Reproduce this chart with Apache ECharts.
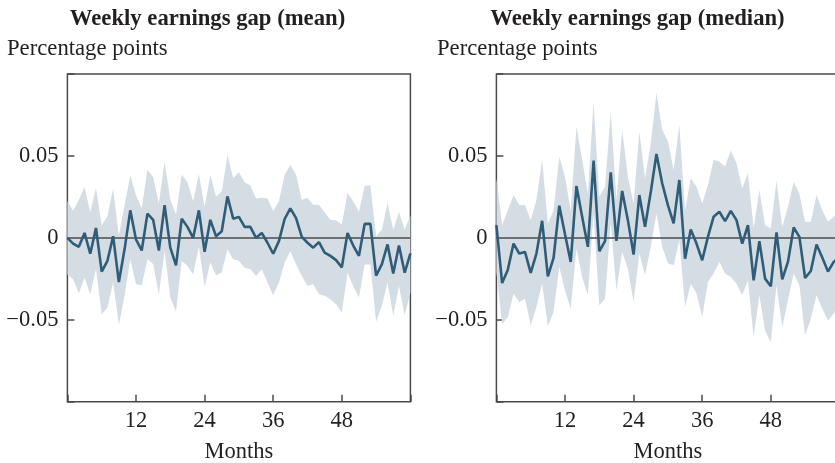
<!DOCTYPE html>
<html>
<head>
<meta charset="utf-8">
<script src="https://cdn.jsdelivr.net/npm/echarts@6/dist/echarts.min.js"></script>
<style>
  html, body { margin: 0; padding: 0; background: #ffffff; }
  #chart { width: 835px; height: 463px; }
</style>
</head>
<body>
<div id="chart"></div>
<script>
// Months since the start of the sample
const months = [0,1,2,3,4,5,6,7,8,9,10,11,12,13,14,15,16,17,18,19,20,
  21,22,23,24,25,26,27,28,29,30,31,32,33,34,35,36,37,38,39,40,
  41,42,43,44,45,46,47,48,49,50,51,52,53,54,55,56,57,58,59,60];

// Mean weekly earnings gap, with lower/upper confidence bounds
const meanGap = [0.000,-0.0035,-0.0055,0.003,-0.0097,0.006,-0.0206,-0.014,0.001,-0.027,-0.007,
  0.0168,-0.001,-0.0077,0.0148,0.011,-0.0077,0.020,-0.006,-0.0168,0.0117,
  0.0067,0.000,0.0168,-0.0085,0.011,0.001,0.004,0.0253,0.0117,0.0128,
  0.0067,0.0067,0.000,0.003,-0.003,-0.0097,-0.002,0.0115,0.018,0.012,
  0.0006,-0.003,-0.006,-0.0026,-0.009,-0.011,-0.0136,-0.018,0.003,-0.0047,
  -0.011,0.0085,0.0085,-0.023,-0.0162,-0.004,-0.0218,-0.0047,-0.0213,-0.0095];
const meanLow = [-0.0223,-0.0253,-0.034,-0.0243,-0.0344,-0.019,-0.0466,-0.0425,-0.0273,-0.053,-0.0354,
  -0.013,-0.0283,-0.029,-0.013,-0.016,-0.0344,-0.008,-0.0364,-0.045,-0.0142,
  -0.017,-0.0223,-0.0055,-0.030,-0.015,-0.023,-0.021,-0.007,-0.013,-0.014,
  -0.0182,-0.0192,-0.0233,-0.0192,-0.0273,-0.035,-0.0273,-0.0152,-0.0081,-0.0162,
  -0.0233,-0.0294,-0.0283,-0.0344,-0.0354,-0.0374,-0.0405,-0.0455,-0.0213,-0.0294,
  -0.0364,-0.0162,-0.0162,-0.0512,-0.0415,-0.0273,-0.0476,-0.0294,-0.0472,-0.0334];
const meanHigh = [0.0223,0.0166,0.0233,0.031,0.0156,0.0306,0.0075,0.0132,0.030,0.0014,0.020,
  0.038,0.026,0.018,0.0417,0.037,0.021,0.0466,0.0233,0.0142,0.0385,
  0.034,0.0223,0.039,0.019,0.0385,0.0253,0.0283,0.0506,0.0365,0.040,
  0.034,0.032,0.024,0.0245,0.024,0.0166,0.0223,0.0385,0.0445,0.0385,
  0.0233,0.0243,0.0202,0.0202,0.0156,0.011,0.0107,0.008,0.0273,0.0223,
  0.016,0.0318,0.032,0.001,0.005,0.0213,0.005,0.0156,0.005,0.0136];

// Median weekly earnings gap, with lower/upper confidence bounds
const medianGap = [0.0078,-0.0276,-0.0194,-0.0035,-0.0096,-0.0086,-0.0214,-0.0096,0.0104,-0.0235,-0.0122,
  0.0196,0.0022,-0.0147,0.0316,0.0129,-0.0055,0.0471,-0.0082,-0.002,0.040,
  -0.0018,0.0286,0.0108,-0.0102,0.0261,0.0067,0.028,0.0512,0.0333,0.020,
  0.0088,0.0353,-0.0127,0.0051,-0.0035,-0.0137,0.0006,0.0129,0.0159,0.0102,
  0.0165,0.0108,-0.0035,0.0078,-0.0259,-0.002,-0.0249,-0.0296,0.0033,-0.0253,
  -0.0147,0.0063,0.0006,-0.0245,-0.0202,-0.0041,-0.012,-0.0206,-0.0147,-0.012];
const medianLow = [-0.021,-0.0524,-0.0484,-0.0341,-0.0392,-0.0371,-0.0535,-0.0422,-0.0278,-0.0539,-0.0453,
  -0.0178,-0.0322,-0.0433,-0.0065,-0.0239,-0.0351,0.0149,-0.0412,-0.0371,0.0088,
  -0.032,-0.0086,-0.0188,-0.0392,-0.0096,-0.0229,-0.0055,0.0149,-0.0055,-0.0155,
  -0.0167,-0.0014,-0.042,-0.028,-0.034,-0.0482,-0.0269,-0.0218,-0.0147,-0.0218,
  -0.0239,-0.028,-0.0351,-0.0259,-0.0606,-0.0351,-0.0565,-0.0637,-0.029,-0.0545,
  -0.0382,-0.0218,-0.029,-0.0596,-0.0494,-0.0351,-0.0433,-0.0504,-0.0463,-0.040];
const medianHigh = [0.0363,0.0078,0.0169,0.0261,0.020,0.020,0.0108,0.0231,0.0476,0.0088,0.0169,
  0.0496,0.0373,0.0169,0.068,0.0476,0.0271,0.0827,0.0251,0.0312,0.0771,
  0.0231,0.0659,0.0373,0.021,0.0649,0.0363,0.0578,0.0884,0.0659,0.059,
  0.0414,0.069,0.0169,0.0363,0.0312,0.021,0.0322,0.0476,0.0465,0.0435,
  0.0533,0.0455,0.0302,0.0394,0.006,0.0292,0.0078,0.0057,0.0349,0.0067,
  0.019,0.0343,0.0271,0.0098,0.0098,0.0261,0.0169,0.0098,0.0129,0.016];

// Axis tick labels
const xTickLabels = [12, 24, 36, 48];
const yTickValues = [-0.05, 0, 0.05];
const yTickLabels = ['\u22120.05', '0', '0.05'];

const panelTitles = ['Weekly earnings gap (mean)', 'Weekly earnings gap (median)'];
const unitLabel = 'Percentage points';
const xAxisName = 'Months';

const FONT = '"Liberation Serif", "Times New Roman", serif';
const INK = '#231f20';
const FRAME = '#4a4a4a';
const LINE = '#2f5d78';
const BAND = '#d5dde4';

const panels = [
  { gap: meanGap, low: meanLow, high: meanHigh, left: 67.4, titleX: 207.5, unitX: 7 },
  { gap: medianGap, low: medianLow, high: medianHigh, left: 496.4, titleX: 637.5, unitX: 437 }
];

const pairs = (vals) => months.map((m, i) => [m, vals[i]]);

// Confidence band drawn as one polygon: upper bound left-to-right, lower bound back
function bandRenderer(low, high) {
  return function (params, api) {
    if (params.dataIndex !== 0) return null;
    const upper = months.map((m, i) => api.coord([m, high[i]]));
    const lower = months.map((m, i) => api.coord([m, low[i]])).reverse();
    return {
      type: 'polygon',
      shape: { points: upper.concat(lower) },
      style: { fill: BAND },
      silent: true
    };
  };
}

const grids = [], xAxes = [], yAxes = [], series = [], graphics = [];

panels.forEach((p, k) => {
  grids.push({
    left: p.left, top: 74, width: 343, height: 327.7,
    outerBoundsMode: 'none', containLabel: false,
    show: true, borderColor: FRAME, borderWidth: 1.5, backgroundColor: 'transparent'
  });
  xAxes.push({
    type: 'value', gridIndex: k, min: 0, max: 60, interval: 12,
    name: xAxisName, nameLocation: 'middle', nameGap: 38.5,
    nameTextStyle: { fontFamily: FONT, fontSize: 22.5, color: INK },
    axisLine: { show: false, onZero: false },
    axisTick: { show: true, inside: true, length: 7, lineStyle: { color: FRAME, width: 1.5 } },
    splitLine: { show: false },
    axisLabel: {
      margin: 8, fontFamily: FONT, fontSize: 22.5, color: INK,
      formatter: (v) => xTickLabels.indexOf(v) >= 0 ? String(v) : ''
    }
  });
  yAxes.push({
    type: 'value', gridIndex: k, min: -0.1, max: 0.1, interval: 0.05,
    axisLine: { show: false, onZero: false },
    axisTick: { show: true, inside: true, length: 7, lineStyle: { color: FRAME, width: 1.5 } },
    splitLine: { show: false },
    axisLabel: {
      margin: 9, fontFamily: FONT, fontSize: 22.5, color: INK,
      formatter: (v) => {
        const i = yTickValues.findIndex(t => Math.abs(t - v) < 1e-9);
        return i >= 0 ? yTickLabels[i] : '';
      }
    }
  });

  series.push({
    type: 'custom', xAxisIndex: k, yAxisIndex: k,
    data: months.map((m, i) => [m, p.low[i], p.high[i]]),
    encode: { x: 0, y: [1, 2] },
    renderItem: bandRenderer(p.low, p.high),
    silent: true, z: 1
  });
  // Point estimate with a zero reference line
  series.push({
    type: 'line', xAxisIndex: k, yAxisIndex: k, data: pairs(p.gap),
    symbol: 'none', lineStyle: { color: LINE, width: 2.6 }, z: 3,
    markLine: {
      silent: true, symbol: 'none', label: { show: false }, z: 2,
      lineStyle: { color: FRAME, width: 1.5, type: 'solid' },
      data: [{ yAxis: 0 }]
    }
  });

  graphics.push({
    type: 'text', x: p.titleX, y: 19,
    style: { text: panelTitles[k], font: 'bold 22.7px ' + FONT, fill: INK, textAlign: 'center', textVerticalAlign: 'middle' }
  });
  graphics.push({
    type: 'text', x: p.unitX, y: 49,
    style: { text: unitLabel, font: '22.7px ' + FONT, fill: INK, textAlign: 'left', textVerticalAlign: 'middle' }
  });
});

const chart = echarts.init(document.getElementById('chart'), null, { renderer: 'canvas' });
chart.setOption({
  animation: false,
  backgroundColor: '#ffffff',
  grid: grids,
  xAxis: xAxes,
  yAxis: yAxes,
  series: series,
  graphic: graphics
});
</script>
</body>
</html>
